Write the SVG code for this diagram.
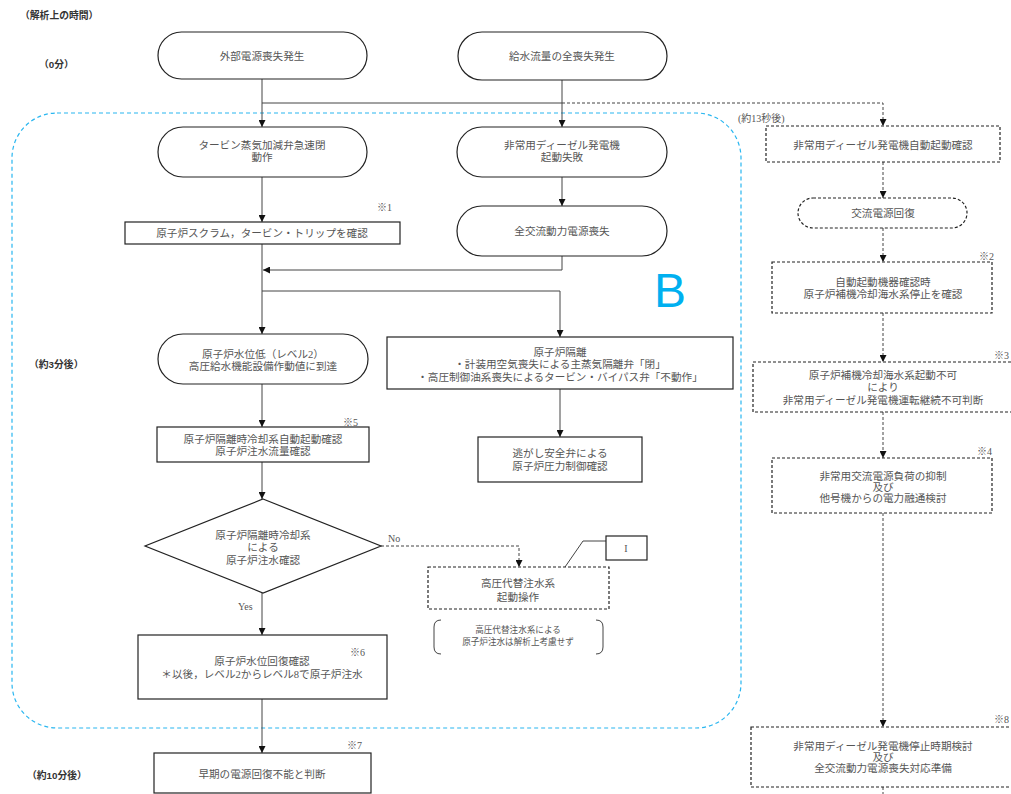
<svg xmlns="http://www.w3.org/2000/svg" width="1011" height="794" viewBox="0 0 1011 794">
<style>
.n{fill:#fff;stroke:#222;stroke-width:1.2}
.d{fill:#fff;stroke:#222;stroke-width:1.2;stroke-dasharray:3,2}
.t{font-family:"Liberation Serif","Noto Sans CJK JP",serif;font-size:10.6px;fill:#555;text-anchor:middle;dominant-baseline:central}
.s{font-size:8.6px}
.lbl{font-family:"Liberation Sans","Noto Sans CJK JP",sans-serif;font-size:9.8px;font-weight:bold;fill:#333;dominant-baseline:central}
.m{font-family:"Liberation Serif","Noto Sans CJK JP",serif;font-size:10px;fill:#555;dominant-baseline:central}
.c{fill:none;stroke:#444;stroke-width:1}
.cd{fill:none;stroke:#444;stroke-width:1;stroke-dasharray:3,2}
</style>
<defs>
<marker id="ah" markerUnits="userSpaceOnUse" markerWidth="7" markerHeight="7" refX="7" refY="3.5" orient="auto"><path d="M0,0 L7,3.5 L0,7 z" fill="#111"/></marker>
</defs>
<rect width="1011" height="794" fill="#fff"/>
<g id="area-b">
<rect x="12" y="113" width="729" height="615" rx="45" fill="none" stroke="#29b6f0" stroke-width="1.2" stroke-dasharray="4,3"/>
<text x="654" y="307" font-family="Liberation Sans,sans-serif" font-size="48" fill="#00b0f0">B</text>
</g>
<g id="time-labels">
<text class="lbl" x="20" y="15">（解析上の時間）</text>
<text class="lbl" x="39" y="64">（0分）</text>
<text class="lbl" x="29" y="364">（約3分後）</text>
<text class="lbl" x="27" y="775">（約10分後）</text>
<text class="m" x="738" y="118">(約13秒後)</text>
</g>
<g id="connectors">
<path class="c" d="M262,79 V127" marker-end="url(#ah)"/>
<path class="c" d="M562,80 V127" marker-end="url(#ah)"/>
<path class="c" d="M262,103 H562"/>
<path class="cd" d="M562,103 H883 V126" marker-end="url(#ah)"/>
<path class="c" d="M262,177 V222" marker-end="url(#ah)"/>
<path class="c" d="M562,177 V206" marker-end="url(#ah)"/>
<path class="c" d="M562,256 V270 H263" marker-end="url(#ah)"/>
<path class="c" d="M262,244 V334" marker-end="url(#ah)"/>
<path class="c" d="M262,291 H560 V337" marker-end="url(#ah)"/>
<path class="c" d="M262,384 V427" marker-end="url(#ah)"/>
<path class="c" d="M262,462 V499" marker-end="url(#ah)"/>
<path class="cd" d="M381,546 H519 V567" marker-end="url(#ah)"/>
<path class="c" d="M262,593 V635" marker-end="url(#ah)"/>
<path class="c" d="M262,699 V753" marker-end="url(#ah)"/>
<path class="c" d="M560,389 V437" marker-end="url(#ah)"/>
<path class="cd" d="M883,162 V198" marker-end="url(#ah)"/>
<path class="cd" d="M883,228 V262" marker-end="url(#ah)"/>
<path class="cd" d="M883,313 V362" marker-end="url(#ah)"/>
<path class="cd" d="M883,412 V458" marker-end="url(#ah)"/>
<path class="cd" d="M883,513 V727" marker-end="url(#ah)"/>
<path class="cd" d="M883,787 V794"/>
<path class="c" d="M606,541 H583 L565,567"/>
<text class="m" x="388" y="538">No</text>
<text class="m" x="238" y="606">Yes</text>
</g>
<g id="n-gaibu"><rect class="n" x="158" y="32" width="209" height="47" rx="23.5"/><text class="t" x="262" y="56">外部電源喪失発生</text></g>
<g id="n-kyusui"><rect class="n" x="458" y="32" width="209" height="48" rx="24"/><text class="t" x="562" y="56">給水流量の全喪失発生</text></g>
<g id="n-turbine"><rect class="n" x="158" y="127" width="209" height="50" rx="25"/><text class="t" x="262" y="145">タービン蒸気加減弁急速閉</text><text class="t" x="262" y="157">動作</text></g>
<g id="n-dg-fail"><rect class="n" x="457" y="127" width="210" height="50" rx="25"/><text class="t" x="562" y="145">非常用ディーゼル発電機</text><text class="t" x="562" y="157">起動失敗</text></g>
<g id="n-scram"><rect class="n" x="125" y="222" width="275" height="22"/><text class="t" x="262" y="233">原子炉スクラム，タービン・トリップを確認</text><text class="m" x="377" y="207">※1</text></g>
<g id="n-sbo"><rect class="n" x="457" y="206" width="210" height="50" rx="25"/><text class="t" x="562" y="231">全交流動力電源喪失</text></g>
<g id="n-level2"><rect class="n" x="158" y="334" width="210" height="50" rx="25"/><text class="t" x="263" y="354">原子炉水位低（レベル2）</text><text class="t" x="263" y="366">高圧給水機能設備作動値に到達</text></g>
<g id="n-isolation"><rect class="n" x="387" y="337" width="346" height="52"/><text class="t" x="560" y="352">原子炉隔離</text><text class="t" x="560" y="364">・計装用空気喪失による主蒸気隔離弁「閉」</text><text class="t" x="560" y="377">・高圧制御油系喪失によるタービン・バイパス弁「不動作」</text></g>
<g id="n-srv"><rect class="n" x="478" y="437" width="164" height="45"/><text class="t" x="560" y="453">逃がし安全弁による</text><text class="t" x="560" y="466">原子炉圧力制御確認</text></g>
<g id="n-rcic"><rect class="n" x="157" y="427" width="212" height="35"/><text class="t" x="263" y="439">原子炉隔離時冷却系自動起動確認</text><text class="t" x="263" y="451">原子炉注水流量確認</text><text class="m" x="343" y="422">※5</text></g>
<g id="n-decision"><path class="n" d="M263,499 L381,546 L263,593 L145,546 Z"/><text class="t" x="263" y="535">原子炉隔離時冷却系</text><text class="t" x="263" y="547">による</text><text class="t" x="263" y="560">原子炉注水確認</text></g>
<g id="n-hpac"><rect class="d" x="428" y="567" width="181" height="42"/><text class="t" x="518" y="583">高圧代替注水系</text><text class="t" x="518" y="597">起動操作</text></g>
<g id="n-callout-i"><rect class="n" x="606" y="536" width="41" height="24"/><text class="m" x="626" y="548" text-anchor="middle">I</text></g>
<g id="n-note"><path class="c" d="M441,620 Q434,620 434,627 V647 Q434,654 441,654"/><path class="c" d="M596,620 Q603,620 603,627 V647 Q603,654 596,654"/><text class="t s" x="518" y="630">高圧代替注水系による</text><text class="t s" x="518" y="642">原子炉注水は解析上考慮せず</text></g>
<g id="n-recover"><rect class="n" x="138" y="635" width="249" height="64"/><text class="t" x="262" y="661">原子炉水位回復確認</text><text class="t" x="262" y="674">＊以後，レベル2からレベル8で原子炉注水</text><text class="m" x="350" y="652">※6</text></g>
<g id="n-judge"><rect class="n" x="154" y="753" width="217" height="40"/><text class="t" x="262" y="774">早期の電源回復不能と判断</text><text class="m" x="347" y="745">※7</text></g>
<g id="n-dg-auto"><rect class="d" x="766" y="126" width="234" height="36"/><text class="t" x="883" y="145">非常用ディーゼル発電機自動起動確認</text></g>
<g id="n-ac-recover"><rect class="d" x="798" y="198" width="169" height="30" rx="15"/><text class="t" x="883" y="213">交流電源回復</text></g>
<g id="n-rcw-stop"><rect class="d" x="772" y="262" width="220" height="51"/><text class="t" x="883" y="282">自動起動機器確認時</text><text class="t" x="883" y="294">原子炉補機冷却海水系停止を確認</text><text class="m" x="979" y="256">※2</text></g>
<g id="n-dg-stop"><rect class="d" x="753" y="362" width="260" height="50"/><text class="t" x="883" y="375">原子炉補機冷却海水系起動不可</text><text class="t" x="883" y="387">により</text><text class="t" x="883" y="400">非常用ディーゼル発電機運転継続不可判断</text><text class="m" x="994" y="355">※3</text></g>
<g id="n-load"><rect class="d" x="772" y="458" width="220" height="55"/><text class="t" x="883" y="476">非常用交流電源負荷の抑制</text><text class="t" x="883" y="487">及び</text><text class="t" x="883" y="498">他号機からの電力融通検討</text><text class="m" x="977" y="451">※4</text></g>
<g id="n-prep"><rect class="d" x="751" y="727" width="264" height="60"/><text class="t" x="883" y="746">非常用ディーゼル発電機停止時期検討</text><text class="t" x="883" y="757">及び</text><text class="t" x="883" y="768">全交流動力電源喪失対応準備</text><text class="m" x="994" y="719">※8</text></g>
</svg>
